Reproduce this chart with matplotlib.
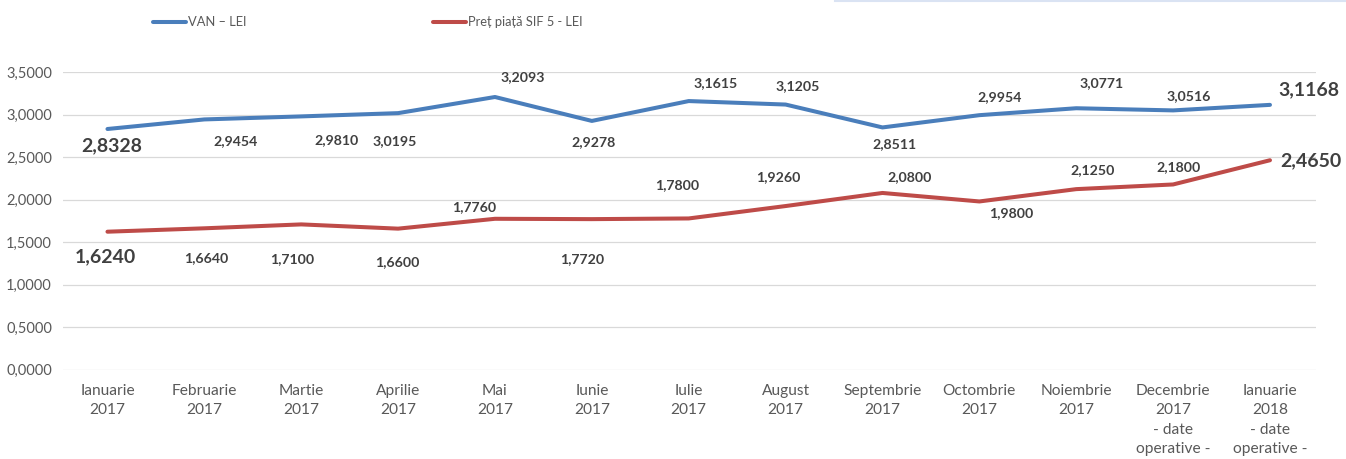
import matplotlib
matplotlib.use("Agg")
import matplotlib.pyplot as plt
from matplotlib.lines import Line2D

plt.rcParams['font.family'] = ['Lato', 'DejaVu Sans']

# data
luni = ["Ianuarie\n2017", "Februarie\n2017", "Martie\n2017", "Aprilie\n2017",
        "Mai\n2017", "Iunie\n2017", "Iulie\n2017", "August\n2017",
        "Septembrie\n2017", "Octombrie\n2017", "Noiembrie\n2017",
        "Decembrie\n2017\n- date\noperative -", "Ianuarie\n2018\n- date\noperative -"]
van = [2.8328, 2.9454, 2.9810, 3.0195, 3.2093, 2.9278, 3.1615,
       3.1205, 2.8511, 2.9954, 3.0771, 3.0516, 3.1168]
pret = [1.6240, 1.6640, 1.7100, 1.6600, 1.7760, 1.7720, 1.7800,
        1.9260, 2.0800, 1.9800, 2.1250, 2.1800, 2.4650]

# label offsets in pixels (dx, dy down), like the manual placement in the original
off_van = [(4, 17), (31, 22), (35, 24), (-3, 28), (28, -20), (2, 21), (27, -18),
           (12, -18), (12, 17), (20, -18), (25, -25), (16, -14), (39, -15)]
off_pret = [(-2, 25), (2, 30), (-9, 35), (-1, 33), (-21, -12), (-10, 40), (-12, -33),
            (-7, -29), (27, -16), (32, 12), (16, -19), (5, -17), (41, 1)]

blue = "#4a7ebb"
red = "#be4b48"
txt = "#404040"
grey = "#595959"

fig = plt.figure(figsize=(13.46, 4.59), dpi=100)
W, H = 1346, 459
ax = fig.add_axes([63 / W, (H - 369.7) / H, (1316 - 63) / W, (369.7 - 72.3) / H])

x = list(range(len(luni)))
ax.plot(x, van, color=blue, lw=2.9, solid_capstyle="round", zorder=3)
ax.plot(x, pret, color=red, lw=2.9, solid_capstyle="round", zorder=3)

def fmt(v):
    return f"{v:.4f}".replace(".", ",")

last = len(x) - 1
for serie, offs in ((van, off_van), (pret, off_pret)):
    for i, v in enumerate(serie):
        dx, dy = offs[i]
        big = i == 0 or i == last
        ax.annotate(fmt(v), (i, v), xytext=(dx * 0.72, -dy * 0.72),
                    textcoords="offset points", ha="center", va="center",
                    fontsize=14 if big else 10.2, fontweight="bold", color=txt)

ax.set_ylim(0, 3.5)
ax.set_xlim(-0.459, 12.475)
ax.set_yticks([0, 0.5, 1, 1.5, 2, 2.5, 3, 3.5])
ax.set_yticklabels([fmt(t) for t in ax.get_yticks()])
ax.set_xticks(x)
ax.set_xticklabels(luni)
ax.tick_params(length=0, colors=grey, labelsize=10.5)
ax.tick_params(axis="y", pad=8)
ax.tick_params(axis="x", pad=10, labelsize=11.2)
for lab in ax.get_xticklabels():
    lab.set_linespacing(1.5)
    lab.set_va("top")
ax.grid(axis="y", color="#d9d9d9", lw=0.9)
ax.set_axisbelow(True)
for s in ax.spines.values():
    s.set_visible(False)

# legend drawn by hand, as in the original
ly = 1 - 22 / H
fig.add_artist(Line2D([153 / W, 186 / W], [ly, ly], color=blue, lw=2.9,
                      solid_capstyle="round"))
fig.text(188 / W, ly, "VAN – LEI", fontsize=9.3, color=grey, va="center")
fig.add_artist(Line2D([433 / W, 466 / W], [ly, ly], color=red, lw=2.9,
                      solid_capstyle="round"))
fig.text(468 / W, ly, "Preț piață SIF 5 - LEI", fontsize=9.3, color=grey, va="center")

# thin frame edge at top right
fig.add_artist(Line2D([835 / W, 1.0], [1 - 0.5 / H, 1 - 0.5 / H], color="#dae3f3", lw=1.5))

fig.savefig("out.png", dpi=100)
